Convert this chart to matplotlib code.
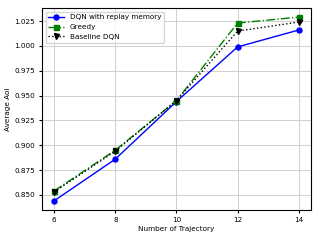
import matplotlib
matplotlib.use("Agg")
import matplotlib.pyplot as plt

# data
trajectories = [6, 8, 10, 12, 14]
dqn_replay = [0.844, 0.886, 0.944, 0.999, 1.016]
greedy = [0.854, 0.895, 0.945, 1.023, 1.029]
baseline_dqn = [0.853, 0.894, 0.945, 1.015, 1.024]

plt.rcParams['font.size'] = 5.2
plt.rcParams['xtick.major.size'] = 2.5
plt.rcParams['ytick.major.size'] = 2.5
plt.rcParams['xtick.major.pad'] = 2.5
plt.rcParams['ytick.major.pad'] = 2.5

fig = plt.figure(figsize=(3.2, 2.4), dpi=100)
plt.plot(trajectories, dqn_replay, 'b-o', lw=1.0, ms=3.6, label='DQN with replay memory')
plt.plot(trajectories, greedy, 'g-.s', lw=1.0, ms=3.6, label='Greedy')
plt.plot(trajectories, baseline_dqn, 'k:v', lw=1.0, ms=3.6, label='Baseline DQN')
plt.xlabel("Number of Trajectory", labelpad=2)
plt.ylabel("Average AoI", labelpad=2)
plt.xticks(trajectories)
plt.grid(True, lw=0.6, color='#c8c8c8')
plt.legend(loc='upper left', handlelength=2.2)
plt.subplots_adjust(left=0.131, right=0.972, top=0.967, bottom=0.125)
plt.savefig("out.png", dpi=100)
